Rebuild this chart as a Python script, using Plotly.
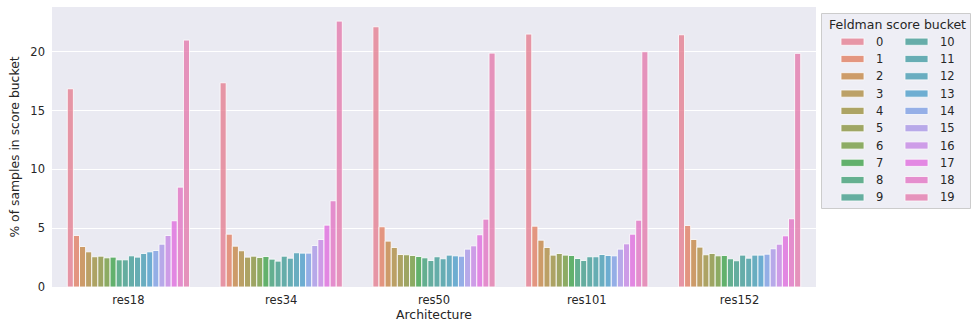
import math
import colorsys
import plotly.graph_objects as go

# ---------------------------------------------------------------- data
architectures = ["res18", "res34", "res50", "res101", "res152"]
buckets = list(range(20))

# % of samples falling in each Feldman score bucket (0..19), per architecture
pct_res18 = [16.85, 4.38, 3.44, 2.99, 2.57, 2.62, 2.48, 2.54, 2.31, 2.31,
             2.65, 2.54, 2.85, 2.99, 3.10, 3.64, 4.38, 5.63, 8.49, 20.99]
pct_res34 = [17.36, 4.49, 3.47, 3.08, 2.54, 2.62, 2.51, 2.59, 2.37, 2.20,
             2.62, 2.45, 2.91, 2.88, 2.88, 3.53, 4.04, 5.26, 7.33, 22.60]
pct_res50 = [22.12, 5.12, 3.90, 3.36, 2.76, 2.74, 2.68, 2.59, 2.48, 2.25,
             2.57, 2.40, 2.71, 2.65, 2.62, 3.22, 3.50, 4.44, 5.77, 19.88]
pct_res101 = [21.50, 5.17, 3.98, 3.36, 2.71, 2.85, 2.71, 2.68, 2.42, 2.25,
              2.57, 2.57, 2.76, 2.68, 2.65, 3.22, 3.67, 4.49, 5.68, 20.00]
pct_res152 = [21.44, 5.23, 4.04, 3.39, 2.74, 2.85, 2.65, 2.68, 2.40, 2.23,
              2.71, 2.45, 2.71, 2.71, 2.79, 3.25, 3.64, 4.35, 5.80, 19.86]
y_ticks = [0, 5, 10, 15, 20]

table = [pct_res18, pct_res34, pct_res50, pct_res101, pct_res152]

# ---------------------------------------------------------------- HUSL palette
_M = [[3.2406, -1.5372, -0.4986], [-0.9689, 1.8758, 0.0415], [0.0557, -0.2040, 1.0570]]
_REF_U, _REF_V = 0.19784, 0.46834
_LAB_E, _LAB_K = 0.008856, 903.3


def _max_chroma(L, H):
    hrad = math.radians(H)
    sinH, cosH = math.sin(hrad), math.cos(hrad)
    sub1 = (L + 16) ** 3 / 1560896.0
    sub2 = sub1 if sub1 > _LAB_E else L / _LAB_K
    best = float("inf")
    for m1, m2, m3 in _M:
        top = (0.99915 * m1 + 1.05122 * m2 + 1.14460 * m3) * sub2
        rbottom = 0.86330 * m3 - 0.17266 * m2
        lbottom = 0.12949 * m3 - 0.38848 * m1
        bottom = (rbottom * sinH + lbottom * cosH) * sub2
        for t in (0.0, 1.0):
            C = L * (top - 1.05122 * t) / (bottom + 0.17266 * sinH * t)
            if 0.0 < C < best:
                best = C
    return best


def _from_linear(c):
    return 12.92 * c if c <= 0.0031308 else 1.055 * c ** (1 / 2.4) - 0.055


def husl_to_rgb(H, S, L):
    C = _max_chroma(L, H) / 100.0 * S
    U, V = math.cos(math.radians(H)) * C, math.sin(math.radians(H)) * C
    t = (L + 16) / 116.0
    Y = t ** 3 if t ** 3 > _LAB_E else (116 * t - 16) / _LAB_K
    vu, vv = U / (13 * L) + _REF_U, V / (13 * L) + _REF_V
    X = -(9 * Y * vu) / ((vu - 4) * vv - vu * vv)
    Z = (9 * Y - 15 * vv * Y - vv * X) / (3 * vv)
    rgb = [_from_linear(r[0] * X + r[1] * Y + r[2] * Z) for r in _M]
    return [min(max(c, 0.0), 1.0) for c in rgb]


def palette(n, h=0.01, s=0.9, l=0.65, sat=0.75):
    cols = []
    for i in range(n):
        hue = ((i / n + h) % 1) * 359
        r, g, b = husl_to_rgb(hue, s * 99, l * 99)
        hh, ll, ss = colorsys.rgb_to_hls(r, g, b)
        r, g, b = colorsys.hls_to_rgb(hh, ll, ss * sat)
        cols.append("rgb(%d,%d,%d)" % (round(r * 255), round(g * 255), round(b * 255)))
    return cols


colors = palette(len(buckets))
BAR_ALPHA = 0.8

# ---------------------------------------------------------------- figure
W, H = 972, 324
ML, MR, MT, MB = 52, 156, 7, 37
PW, PH = W - ML - MR, H - MT - MB
TEXT = "#262626"
FONT = "DejaVu Sans"

fig = go.Figure()
for k, b in enumerate(buckets):
    fig.add_trace(go.Bar(
        x=architectures,
        y=[row[k] for row in table],
        name=str(b),
        marker=dict(color=colors[k], opacity=BAR_ALPHA,
                    line=dict(color="white", width=0.9)),
        showlegend=False,
    ))


def px_x(px):
    return (px - ML) / PW


def px_y(py):
    return (H - MB - py) / PH


# legend box, title, swatches and labels (two columns of ten)
shapes = [dict(type="rect", xref="paper", yref="paper",
               x0=px_x(821.5), x1=px_x(970.5), y0=px_y(208.5), y1=px_y(13.5),
               fillcolor="#EEEEF5", line=dict(color="#CCCCCC", width=1), layer="above")]
annotations = [dict(text="Feldman score bucket", xref="paper", yref="paper",
                    x=px_x(897.5), y=px_y(24.5), xanchor="center", yanchor="middle",
                    showarrow=False, font=dict(family=FONT, size=12.5, color=TEXT))]
col_swatch_x = [841, 905]
col_label_x = [874, 938]
for k, b in enumerate(buckets):
    col, row = divmod(k, 10)
    cy = 41.7 + row * 17.3
    shapes.append(dict(type="rect", xref="paper", yref="paper",
                       x0=px_x(col_swatch_x[col]), x1=px_x(col_swatch_x[col] + 23),
                       y0=px_y(cy + 3.6), y1=px_y(cy - 3.6), opacity=BAR_ALPHA,
                       fillcolor=colors[k], line=dict(color="white", width=0.8), layer="above"))
    annotations.append(dict(text=str(b), xref="paper", yref="paper",
                            x=px_x(col_label_x[col]), y=px_y(cy), xanchor="left", yanchor="middle",
                            showarrow=False, font=dict(family=FONT, size=11.5, color=TEXT)))

fig.update_layout(
    width=W, height=H,
    margin=dict(l=ML, r=MR, t=MT, b=MB, autoexpand=False),
    paper_bgcolor="white",
    plot_bgcolor="#EAEAF2",
    barmode="group",
    bargap=0.2,
    bargroupgap=0.0,
    font=dict(family=FONT, size=11.5, color=TEXT),
    shapes=shapes,
    annotations=annotations,
    xaxis=dict(
        title=dict(text="Architecture", font=dict(size=12.4), standoff=4),
        showgrid=False, zeroline=False, showline=False, ticks="",
        ticklabelstandoff=4, automargin=False,
    ),
    yaxis=dict(
        title=dict(text="% of samples in score bucket", font=dict(size=12.4), standoff=8),
        range=[0, 23.8], tickvals=y_ticks, showgrid=True, gridcolor="white", gridwidth=1,
        zeroline=False, showline=False, ticks="", ticklabelstandoff=6, automargin=False,
    ),
)

fig.write_html("out.html")
